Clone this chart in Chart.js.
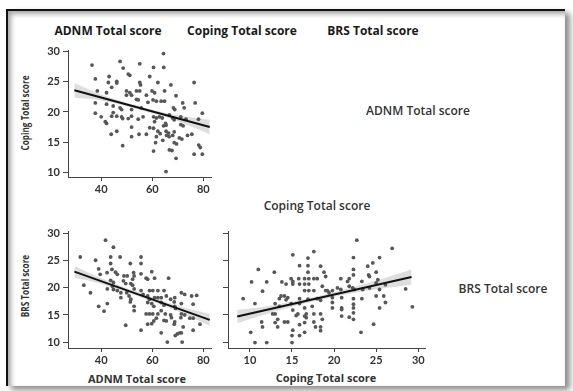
<!DOCTYPE html>
<html>
<head>
<meta charset="utf-8">
<script src="https://cdn.jsdelivr.net/npm/chart.js@4.4.0/dist/chart.umd.min.js"></script>
<style>
  body { margin: 0; width: 573px; height: 391px; background: #fff; position: relative; overflow: hidden; font-family: "Open Sans", sans-serif; }
  .frame { position: absolute; left: 6px; top: 9px; width: 557px; height: 375px; border-top: 2px solid #111; border-left: 2px solid #111;
           box-shadow: inset 3px 3px 5px rgba(0,0,0,0.35), 5px 4px 6px rgba(0,0,0,0.45); }
  canvas { position: absolute; }
  .lbl { position: absolute; transform: translate(-50%, -50%); white-space: nowrap; color: #222; }
  .head { font-weight: 700; font-size: 12px; color: #1a1a1a; }
  .diag { font-weight: 600; font-size: 12px; color: #333; }
  .axt { font-weight: 700; font-size: 11px; color: #333; }
  .yt { font-family: "Open Sans", sans-serif; font-weight: 700; font-size: 10.5px; color: #333;
        transform: translate(-50%, -50%) rotate(-90deg) scaleX(0.78); }
</style>
</head>
<body>
<div class="frame"></div>

<div class="lbl head" style="left:108px; top:30px">ADNM Total score</div>
<div class="lbl head" style="left:242px; top:30px">Coping Total score</div>
<div class="lbl head" style="left:373px; top:30px">BRS Total score</div>

<div class="lbl diag" style="left:418px; top:110px">ADNM Total score</div>
<div class="lbl diag" style="left:317px; top:205px">Coping Total score</div>
<div class="lbl diag" style="left:503px; top:288px">BRS Total score</div>

<div class="lbl yt" style="left:25px; top:113px">Coping Total score</div>
<div class="lbl yt" style="left:25px; top:286px">BRS Total score</div>
<div class="lbl axt" style="left:137px; top:378px">ADNM Total score</div>
<div class="lbl axt" style="left:326px; top:377px">Coping Total score</div>

<canvas id="p1" width="190" height="160" style="left:30px; top:40px"></canvas>
<canvas id="p2" width="190" height="150" style="left:30px; top:220px"></canvas>
<canvas id="p3" width="240" height="150" style="left:200px; top:220px"></canvas>

<script>
// tick labels
var adnmTicks = [40, 60, 80];
var copingTicks = [10, 15, 20, 25, 30];
var scoreTicks = [10, 15, 20, 25, 30];

// ADNM (x) vs Coping (y)
var adnmCoping = [
  [36.4,27.8],[47.4,28.4],[48.6,27.3],[55.1,28.0],[64.4,29.7],[60.5,27.4],[64.5,27.4],[37.7,25.5],[43.1,25.9],[46.1,25.1],
  [46.1,24.8],[50.6,26.3],[51.2,26.1],[59.0,25.9],[42.8,24.9],[44.1,24.1],[55.1,24.9],[55.4,24.5],[62.2,24.9],[76.4,24.9],
  [67.3,24.5],[38.5,23.5],[42.1,23.2],[49.9,23.5],[51.2,23.2],[53.8,23.5],[55.1,23.5],[59.9,23.5],[60.9,23.2],[64.8,23.5],
  [49.9,22.8],[51.9,22.8],[57.7,22.8],[69.3,22.7],[53.8,22.1],[54.5,22.0],[60.3,22.0],[61.6,21.8],[63.5,21.8],[64.8,21.8],
  [58.3,21.6],[71.9,21.5],[76.8,21.5],[37.7,21.5],[42.1,21.3],[44.7,21.0],[47.4,20.7],[48.0,20.4],[51.9,20.4],[55.7,20.7],
  [68.3,20.7],[68.8,20.4],[72.5,20.7],[79.6,19.8],[37.7,19.8],[44.7,19.9],[40.0,19.2],[44.1,19.3],[46.1,19.3],[48.0,19.2],
  [48.4,18.9],[51.9,19.3],[56.4,19.2],[60.5,19.2],[61.6,19.0],[62.8,19.2],[63.9,19.0],[66.7,19.5],[68.0,19.0],[68.6,18.7],
  [71.2,19.2],[73.2,18.8],[78.1,18.8],[41.6,18.4],[42.1,18.1],[50.6,18.9],[54.5,18.8],[60.9,18.4],[65.2,18.1],[65.4,17.8],
  [64.4,17.7],[71.2,17.9],[72.1,17.7],[51.9,17.5],[59.0,17.4],[60.5,17.3],[46.1,16.8],[43.9,16.3],[62.2,16.8],[63.1,16.4],
  [65.4,16.8],[66.4,16.5],[65.6,16.1],[66.6,15.9],[68.6,16.7],[68.0,16.1],[73.8,16.1],[75.5,16.3],[57.7,16.3],[54.8,16.3],
  [51.9,15.9],[61.6,15.9],[70.6,15.7],[71.6,15.5],[64.1,15.3],[68.6,14.9],[69.5,14.7],[61.3,14.9],[48.4,14.4],[78.2,14.5],
  [78.8,14.1],[66.7,13.7],[67.7,13.6],[60.5,13.5],[69.3,12.3],[76.4,13.0],[79.6,13.0],[65.4,10.1]
];
var adnmCopingFit = [[29.5,23.6],[82.5,17.5]];
var adnmCopingBandX = [29.5, 40, 56, 70, 82.5];
var adnmCopingBandLow = [22.4, 21.9, 20.25, 18.45, 16.3];
var adnmCopingBandHigh = [24.8, 22.9, 20.85, 19.45, 18.7];

// ADNM (x) vs BRS (y)
var adnmBrs = [
  [41.7,28.8],[44.8,27.5],[31.8,25.7],[37.8,25.1],[43.7,25.7],[47.4,25.7],[55.6,25.7],[55.6,24.5],[51.4,24.5],[43.7,24.5],
  [39.0,23.5],[44.2,23.4],[59.8,23.0],[33.2,20.5],[39.6,22.5],[42.3,22.8],[45.6,22.9],[46.3,22.5],[48.9,22.2],[50.2,22.2],
  [52.7,22.8],[52.9,22.2],[52.3,21.6],[55.6,22.6],[57.6,21.8],[58.2,21.6],[60.9,21.8],[66.4,21.8],[43.7,21.4],[44.8,21.0],
  [44.4,20.3],[48.7,21.3],[49.6,20.8],[51.6,20.8],[52.3,20.5],[42.4,19.8],[44.8,19.7],[46.3,19.5],[35.8,19.1],[47.7,19.1],
  [50.0,19.1],[50.9,18.5],[51.6,17.9],[51.4,17.4],[52.9,19.8],[55.6,19.5],[56.4,18.8],[58.9,19.5],[60.2,19.5],[62.2,19.5],
  [64.6,19.5],[47.7,18.2],[58.2,18.5],[58.9,17.9],[60.9,18.2],[62.2,18.2],[63.5,18.2],[65.5,18.5],[67.2,17.9],[68.8,18.2],
  [68.6,17.4],[71.4,19.1],[72.7,18.8],[75.4,18.5],[77.4,18.6],[58.2,17.3],[59.8,17.1],[60.6,16.6],[63.5,17.3],[64.6,16.8],
  [68.8,16.6],[69.1,16.2],[71.4,17.1],[76.0,17.0],[39.0,16.6],[42.4,17.1],[41.1,15.7],[52.9,16.6],[52.9,15.8],[57.6,15.2],
  [58.9,15.2],[60.2,15.2],[62.2,15.2],[63.5,15.8],[65.1,15.2],[67.2,15.0],[67.5,14.5],[71.4,15.2],[72.7,15.0],[71.2,14.5],
  [74.7,14.4],[76.0,14.4],[60.6,13.9],[61.6,14.4],[59.8,13.4],[64.6,14.0],[65.5,13.9],[58.2,13.3],[49.6,13.1],[68.6,13.3],
  [68.8,13.7],[78.7,13.3],[72.1,12.8],[76.0,12.2],[55.6,12.2],[63.5,11.7],[69.8,11.5],[70.8,11.7],[71.4,11.7],[69.0,11.2],
  [65.9,10.0],[71.7,10.0]
];
var adnmBrsFit = [[29.5,23.0],[82.5,14.1]];
var adnmBrsBandX = [29.5, 40, 56, 70, 82.5];
var adnmBrsBandLow = [21.9, 20.7, 18.15, 15.7, 13.0];
var adnmBrsBandHigh = [24.1, 21.8, 18.95, 16.7, 15.2];

// Coping (x) vs BRS (y)
var copingBrs = [
  [9.2,18.0],[10.6,17.1],[10.2,21.1],[11.0,23.4],[11.5,19.4],[12.0,21.1],[12.9,22.9],[13.8,21.1],[14.9,21.7],[15.1,21.2],
  [15.1,20.7],[14.3,20.7],[10.1,11.8],[10.6,9.9],[12.0,9.9],[11.4,13.7],[11.5,12.8],[12.7,15.2],[13.0,15.2],[13.3,14.2],
  [13.0,13.6],[13.3,12.8],[13.5,18.0],[13.7,18.5],[14.1,18.5],[13.0,17.1],[13.5,16.6],[14.3,17.8],[14.5,18.2],[15.1,26.1],
  [14.9,17.1],[15.1,15.9],[14.5,13.7],[14.1,13.7],[15.1,12.2],[15.0,11.2],[15.0,9.9],[15.8,21.7],[15.9,20.7],[15.9,24.1],
  [15.9,18.0],[15.9,17.1],[15.7,15.2],[15.5,14.9],[15.9,13.2],[15.9,11.2],[16.5,21.7],[16.5,20.7],[16.5,19.5],[16.5,16.3],
  [16.7,15.2],[16.5,14.8],[16.7,14.5],[16.5,13.6],[16.5,11.8],[16.9,25.5],[16.9,24.1],[16.9,22.9],[17.0,21.7],[17.0,20.7],
  [17.0,19.5],[16.9,17.9],[17.4,16.6],[17.6,21.7],[17.6,26.7],[17.6,19.5],[17.6,13.7],[17.8,12.8],[17.6,15.2],[18.0,21.7],
  [18.0,18.0],[18.4,24.0],[18.6,20.3],[19.0,19.5],[18.4,15.2],[18.4,17.7],[18.8,22.9],[19.0,22.1],[18.6,14.2],[18.4,12.8],
  [18.4,12.1],[19.2,19.5],[19.4,19.1],[19.8,18.2],[19.8,17.3],[19.8,16.3],[19.8,19.5],[20.8,21.7],[20.4,20.0],[20.8,19.7],
  [20.9,16.0],[20.9,16.3],[20.9,18.2],[20.9,14.8],[21.6,21.2],[21.8,20.3],[21.8,21.7],[21.8,14.6],[22.2,20.0],[22.4,19.7],
  [22.3,25.6],[22.3,23.4],[22.3,22.4],[22.3,18.0],[22.3,17.0],[22.3,16.3],[22.3,15.4],[22.3,14.2],[22.7,28.8],[23.3,21.2],
  [23.4,19.7],[23.3,18.0],[23.2,11.8],[24.0,24.0],[24.1,22.4],[24.2,22.1],[24.2,20.0],[24.6,24.6],[25.0,22.9],[24.7,13.3],
  [25.0,18.5],[25.4,25.6],[25.2,21.5],[25.4,19.7],[25.4,16.3],[25.9,18.5],[26.1,17.3],[26.9,27.3],[28.5,19.8],[29.3,16.5],
  [25.0,20.9],[26.1,20.6]
];
var copingBrsFit = [[8.5,14.7],[29.2,22.0]];
var copingBrsBandX = [8.5, 12, 18, 24, 29.2];
var copingBrsBandLow = [13.5, 15.2, 17.65, 19.5, 20.6];
var copingBrsBandHigh = [15.9, 16.6, 18.45, 20.9, 23.4];

function toXY(arr) {
  return arr.map(function(p) { return {x: p[0], y: p[1]}; });
}
function zipXY(xs, ys) {
  return xs.map(function(x, i) { return {x: x, y: ys[i]}; });
}

var tickFont = {family: 'Lato', size: 11, weight: 'bold'};

function makePanel(id, pts, fit, bx, blo, bhi, cfg) {
  var ctx = document.getElementById(id).getContext('2d');
  return new Chart(ctx, {
    type: 'scatter',
    data: {
      datasets: [
        // confidence band (drawn underneath)
        { data: zipXY(bx, bhi), showLine: true, borderWidth: 0, pointRadius: 0, fill: '+1', order: 4,
          backgroundColor: 'rgba(200,200,200,0.6)', tension: 0.4 },
        { data: zipXY(bx, blo), showLine: true, borderWidth: 0, pointRadius: 0, fill: false, order: 3, tension: 0.4 },
        { data: toXY(pts), pointRadius: 1.9, pointBackgroundColor: '#575757', pointBorderWidth: 0, order: 2 },
        { data: toXY(fit), showLine: true, borderColor: '#111', borderWidth: 2, pointRadius: 0, fill: false, order: 1 }
      ]
    },
    options: {
      responsive: false,
      animation: false,
      layout: { padding: { top: cfg.padTop, right: cfg.padRight, left: 0, bottom: 0 } },
      plugins: { legend: { display: false }, tooltip: { enabled: false } },
      scales: {
        x: {
          type: 'linear', min: cfg.xMin, max: cfg.xMax,
          afterBuildTicks: function(s) { s.ticks = cfg.xTicks.map(function(v) { return {value: v}; }); },
          afterFit: function(s) { s.height = cfg.xH; },
          grid: { drawOnChartArea: false, tickLength: 4, color: '#444' },
          border: { color: '#444', width: 1 },
          ticks: { padding: 2, color: '#333', font: tickFont }
        },
        y: {
          type: 'linear', min: cfg.yMin, max: cfg.yMax,
          afterBuildTicks: function(s) { s.ticks = cfg.yTicks.map(function(v) { return {value: v}; }); },
          afterFit: function(s) { s.width = cfg.yW; },
          grid: { drawOnChartArea: false, tickLength: 5, color: '#444' },
          border: { color: '#444', width: 1 },
          ticks: { padding: 3, color: '#333', font: tickFont,
                   callback: cfg.hideY ? function() { return ''; } : function(v) { return v; } }
        }
      }
    }
  });
}

makePanel('p1', adnmCoping, adnmCopingFit, adnmCopingBandX, adnmCopingBandLow, adnmCopingBandHigh,
  { padTop: 10, padRight: 9, xMin: 27, xMax: 83, yMin: 9.2, yMax: 30.3, xTicks: adnmTicks, yTicks: copingTicks, xH: 23, yW: 38 });
makePanel('p2', adnmBrs, adnmBrsFit, adnmBrsBandX, adnmBrsBandLow, adnmBrsBandHigh,
  { padTop: 11, padRight: 9, xMin: 27, xMax: 83, yMin: 8.9, yMax: 30.5, xTicks: adnmTicks, yTicks: scoreTicks, xH: 22, yW: 38 });
makePanel('p3', copingBrs, copingBrsFit, copingBrsBandX, copingBrsBandLow, copingBrsBandHigh,
  { padTop: 11, padRight: 15, xMin: 7.4, xMax: 30.8, yMin: 8.9, yMax: 30.5, xTicks: copingTicks, yTicks: scoreTicks, xH: 22, yW: 28, hideY: true });
</script>
</body>
</html>
